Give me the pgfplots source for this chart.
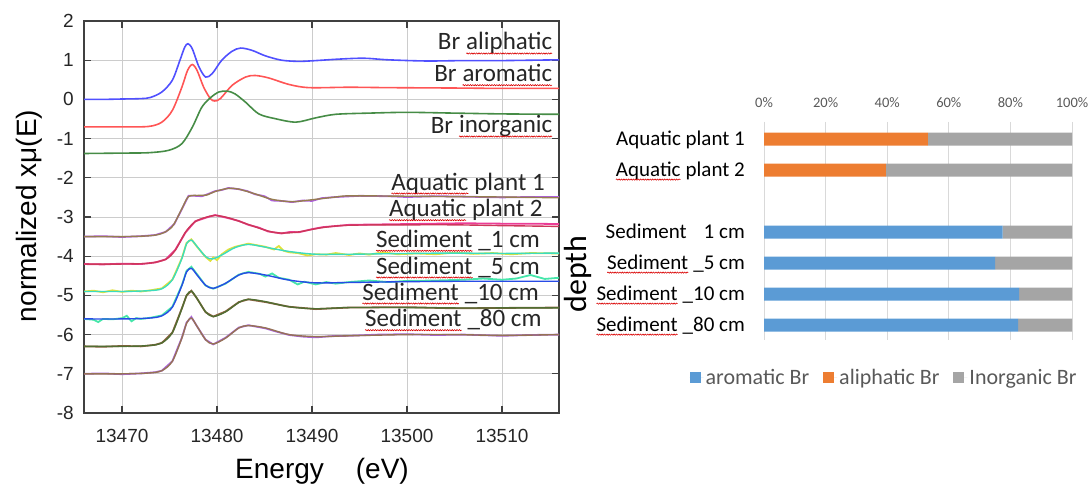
\documentclass[border=0pt]{standalone}
\usepackage{pgfplots}
\pgfplotsset{compat=1.18}
\usepackage{fontspec}
\setmainfont{Liberation Sans}
\newfontfamily\carl{Carlito}
\usetikzlibrary{decorations.pathmorphing}
\definecolor{cblue}{RGB}{80,80,255}
\definecolor{cred}{RGB}{255,85,85}
\definecolor{cgreen}{RGB}{70,140,70}
\definecolor{p1fit}{RGB}{150,125,80}
\definecolor{p1dat}{RGB}{175,95,225}
\definecolor{p2fit}{RGB}{205,55,90}
\definecolor{p2dat}{RGB}{235,60,150}
\definecolor{s1fit}{RGB}{60,220,190}
\definecolor{s1dat}{RGB}{225,225,60}
\definecolor{s5fit}{RGB}{40,75,230}
\definecolor{s5dat}{RGB}{70,230,170}
\definecolor{s10fit}{RGB}{80,110,50}
\definecolor{s10dat}{RGB}{145,95,65}
\definecolor{s80fit}{RGB}{150,115,85}
\definecolor{s80dat}{RGB}{170,100,220}
\definecolor{barblue}{RGB}{91,155,213}
\definecolor{barorange}{RGB}{237,125,49}
\definecolor{bargray}{RGB}{165,165,165}
\definecolor{txtgray}{RGB}{89,89,89}
\newcommand{\sq}[1]{\tikz[baseline=(t.base)]{\node[inner sep=0pt,outer sep=0pt,anchor=center](t){#1};\draw[red!85!black,line width=0.6pt,decorate,decoration={snake,amplitude=0.6pt,segment length=2.4pt}]([yshift=-3.5pt]t.base west)--([yshift=-3.5pt]t.base east);}}
\begin{document}
\begin{tikzpicture}
\path[use as bounding box] (0pt,0pt) rectangle (1091pt,483pt);
\begin{axis}[
  at={(84pt,70pt)}, anchor=south west, scale only axis,
  width=475pt, height=392pt,
  xmin=13466, xmax=13516, ymin=-8, ymax=2,
  xtick={13470,13480,13490,13500,13510},
  ytick={-8,-7,-6,-5,-4,-3,-2,-1,0,1,2},
  scaled x ticks=false, scaled y ticks=false,
  /pgf/number format/assume math mode=true,
  /pgf/number format/set thousands separator={},
  grid=major, major grid style={black!20, line width=1pt},
  tick align=inside, major tick length=7pt,
  axis line style={black!75, line width=1.2pt},
  tick style={black!75, line width=1.2pt},
  ticklabel style={font=\fontsize{19}{21}\selectfont, text=black!85},
  xticklabel style={inner sep=0pt, yshift=-16pt},
  yticklabel style={inner sep=0pt, xshift=-10pt},
  clip=true,
]
% Br aliphatic
\addplot[cblue, line width=1.6pt, smooth] coordinates {(13466,0.0)(13468,0.0)(13470,0.01)(13472,0.02)(13473,0.05)(13474.2,0.19)(13475.3,0.49)(13476.1,1.0)(13476.6,1.33)(13476.95,1.42)(13477.4,1.29)(13478.1,0.83)(13478.8,0.57)(13479.5,0.66)(13480.5,1.0)(13481.6,1.23)(13482.5,1.31)(13483.7,1.25)(13485.1,1.11)(13486.8,1.0)(13488.6,0.97)(13490.4,0.99)(13493,1.03)(13495.5,1.05)(13498,1.01)(13502,0.98)(13506,0.99)(13510,0.99)(13516,1.01)};
% Br aromatic
\addplot[cred, line width=1.6pt, smooth] coordinates {(13466,-0.7)(13470,-0.7)(13472.8,-0.69)(13474.2,-0.58)(13475.3,-0.28)(13476.3,0.31)(13476.9,0.74)(13477.4,0.89)(13477.9,0.74)(13478.6,0.31)(13479.3,0.02)(13479.75,-0.04)(13480.35,0.02)(13481.6,0.36)(13483.0,0.57)(13484.0,0.61)(13485.4,0.55)(13487.6,0.38)(13489.7,0.30)(13493.9,0.31)(13498,0.30)(13505,0.29)(13510,0.28)(13516,0.28)};
% Br inorganic
\addplot[cgreen, line width=1.6pt, smooth] coordinates {(13466,-1.38)(13470,-1.37)(13472.8,-1.36)(13474.9,-1.30)(13476.3,-1.13)(13477.4,-0.71)(13478.4,-0.20)(13479.3,0.04)(13480.2,0.19)(13481.1,0.21)(13481.9,0.14)(13483.0,-0.07)(13484.4,-0.37)(13486.1,-0.49)(13488.3,-0.58)(13490.4,-0.47)(13492.5,-0.38)(13496,-0.35)(13500,-0.33)(13505,-0.35)(13510,-0.37)(13516,-0.38)};
% Aquatic plant 1
\addplot[p1dat, line width=1.8pt] coordinates {(13466,-3.5)(13468,-3.49)(13470,-3.51)(13472,-3.49)(13473.5,-3.46)(13474.6,-3.38)(13475.5,-3.18)(13476.3,-2.80)(13477.0,-2.46)(13477.7,-2.46)(13478.4,-2.47)(13479.0,-2.42)(13479.8,-2.34)(13480.5,-2.31)(13481.2,-2.26)(13482.3,-2.29)(13483.2,-2.34)(13484.0,-2.42)(13485.0,-2.47)(13485.8,-2.58)(13486.8,-2.59)(13487.9,-2.62)(13489.0,-2.58)(13490.0,-2.59)(13491.0,-2.52)(13492.5,-2.49)(13495,-2.46)(13498,-2.47)(13500,-2.49)(13503,-2.47)(13506,-2.48)(13510,-2.50)(13513,-2.49)(13516,-2.49)};
\addplot[p1fit, line width=1.4pt, smooth] coordinates {(13466,-3.5)(13470,-3.5)(13472.8,-3.48)(13474.2,-3.42)(13475.3,-3.24)(13476.3,-2.79)(13477.0,-2.48)(13478.1,-2.45)(13478.9,-2.44)(13479.8,-2.35)(13481.2,-2.27)(13482.3,-2.29)(13484.0,-2.41)(13485.8,-2.55)(13487.9,-2.61)(13490.0,-2.56)(13492.5,-2.49)(13494,-2.46)(13500,-2.47)(13505,-2.48)(13510,-2.49)(13516,-2.51)};
% Aquatic plant 2
\addplot[p2dat, line width=1.8pt] coordinates {(13466,-4.2)(13468,-4.21)(13470,-4.19)(13472,-4.2)(13473.5,-4.16)(13474.6,-4.08)(13475.6,-3.84)(13476.7,-3.39)(13477.7,-3.11)(13478.8,-3.02)(13479.8,-2.95)(13481.2,-3.03)(13482.3,-3.10)(13483.3,-3.20)(13484.4,-3.27)(13485.4,-3.37)(13486.8,-3.42)(13487.7,-3.38)(13488.6,-3.39)(13490,-3.31)(13491.1,-3.26)(13493.9,-3.20)(13497,-3.19)(13500,-3.18)(13503,-3.17)(13506,-3.16)(13510,-3.17)(13513,-3.17)(13516,-3.18)};
\addplot[p2fit, line width=1.4pt, smooth] coordinates {(13466,-4.2)(13470,-4.2)(13472.8,-4.18)(13474.6,-4.08)(13475.6,-3.85)(13476.7,-3.38)(13477.7,-3.12)(13478.8,-3.01)(13479.8,-2.96)(13481.2,-3.02)(13483.3,-3.19)(13485.4,-3.36)(13486.8,-3.41)(13488.6,-3.38)(13491.1,-3.27)(13493.9,-3.21)(13500,-3.20)(13505,-3.20)(13510,-3.22)(13516,-3.24)};
% Sediment 1 cm
\addplot[s1dat, line width=1.8pt] coordinates {(13466,-4.9)(13467,-4.88)(13468,-4.92)(13469,-4.87)(13470,-4.91)(13471,-4.88)(13472,-4.9)(13473,-4.87)(13474.2,-4.82)(13475.3,-4.6)(13476.3,-4.05)(13476.8,-3.66)(13477.3,-3.57)(13477.9,-3.76)(13478.8,-4.02)(13479.3,-4.12)(13479.6,-4.03)(13480.0,-4.1)(13480.5,-3.95)(13481.2,-3.83)(13481.9,-3.76)(13482.6,-3.72)(13483.3,-3.68)(13484.2,-3.72)(13485.1,-3.76)(13486.0,-3.83)(13486.5,-3.74)(13487.0,-3.86)(13487.6,-3.90)(13488.5,-3.92)(13489.5,-3.98)(13490.4,-3.95)(13491.5,-3.96)(13492.5,-3.92)(13493.9,-3.97)(13495,-3.93)(13496,-3.96)(13497.5,-3.90)(13499,-3.95)(13501,-3.93)(13503,-3.95)(13505,-3.91)(13507,-3.94)(13509,-3.92)(13511,-3.95)(13513,-3.92)(13516,-3.93)};
\addplot[s1fit, line width=1.4pt, smooth] coordinates {(13466,-4.9)(13470,-4.9)(13472.8,-4.88)(13474.2,-4.83)(13475.3,-4.6)(13476.3,-4.06)(13476.8,-3.68)(13477.3,-3.59)(13477.9,-3.75)(13478.8,-4.01)(13479.5,-4.07)(13480.5,-3.97)(13481.9,-3.78)(13483.3,-3.70)(13485.1,-3.77)(13487.6,-3.88)(13490.4,-3.95)(13493.9,-3.95)(13500,-3.93)(13505,-3.92)(13510,-3.93)(13516,-3.92)};
% Sediment 5 cm
\addplot[s5dat, line width=1.8pt] coordinates {(13466,-5.6)(13467,-5.62)(13467.5,-5.68)(13468,-5.6)(13469,-5.61)(13470,-5.58)(13470.5,-5.52)(13471,-5.66)(13471.5,-5.58)(13472,-5.6)(13473,-5.57)(13474.2,-5.51)(13475.3,-5.29)(13476.3,-4.74)(13476.8,-4.37)(13477.3,-4.27)(13477.9,-4.46)(13478.8,-4.75)(13479.6,-4.83)(13480.9,-4.70)(13482.3,-4.47)(13483.3,-4.40)(13484.5,-4.45)(13485.1,-4.52)(13485.8,-4.44)(13486.5,-4.55)(13487.6,-4.60)(13488.5,-4.72)(13489.2,-4.65)(13490.4,-4.72)(13491.5,-4.66)(13492.5,-4.70)(13493.9,-4.66)(13496,-4.62)(13498,-4.66)(13500,-4.63)(13503,-4.62)(13506,-4.60)(13508,-4.57)(13510,-4.60)(13511.5,-4.57)(13513,-4.48)(13514.5,-4.58)(13516,-4.55)};
\addplot[s5fit, line width=1.4pt, smooth] coordinates {(13466,-5.6)(13470,-5.6)(13472.8,-5.58)(13474.2,-5.52)(13475.3,-5.3)(13476.3,-4.75)(13476.8,-4.4)(13477.3,-4.31)(13477.9,-4.48)(13478.8,-4.74)(13479.6,-4.82)(13480.9,-4.69)(13482.3,-4.48)(13483.3,-4.42)(13485.1,-4.48)(13487.6,-4.61)(13490.4,-4.68)(13493.9,-4.67)(13500,-4.65)(13505,-4.64)(13510,-4.64)(13516,-4.64)};
% Sediment 10 cm
\addplot[s10dat, line width=1.8pt] coordinates {(13466,-6.3)(13468,-6.31)(13470,-6.29)(13472,-6.3)(13473.5,-6.26)(13474.2,-6.21)(13475.3,-5.95)(13476.3,-5.33)(13476.8,-5.0)(13477.3,-4.88)(13477.9,-5.08)(13478.8,-5.43)(13479.6,-5.54)(13480.9,-5.41)(13482.3,-5.17)(13483.3,-5.10)(13485.1,-5.17)(13487.6,-5.29)(13490.4,-5.35)(13493.9,-5.31)(13500,-5.30)(13505,-5.33)(13510,-5.32)(13516,-5.31)};
\addplot[s10fit, line width=1.4pt, smooth] coordinates {(13466,-6.3)(13470,-6.3)(13472.8,-6.28)(13474.2,-6.21)(13475.3,-5.95)(13476.3,-5.34)(13476.8,-5.0)(13477.3,-4.89)(13477.9,-5.08)(13478.8,-5.42)(13479.6,-5.54)(13480.9,-5.42)(13482.3,-5.18)(13483.3,-5.10)(13485.1,-5.16)(13487.6,-5.29)(13490.4,-5.34)(13493.9,-5.31)(13500,-5.31)(13505,-5.32)(13510,-5.32)(13516,-5.32)};
% Sediment 80 cm
\addplot[s80dat, line width=1.8pt] coordinates {(13466,-7.0)(13468,-6.99)(13470,-7.01)(13472,-6.99)(13473.5,-6.96)(13474.2,-6.92)(13475.3,-6.68)(13476.3,-6.08)(13476.8,-5.69)(13477.3,-5.55)(13477.9,-5.79)(13478.8,-6.13)(13479.6,-6.25)(13480.9,-6.08)(13482.3,-5.82)(13483.3,-5.76)(13484.2,-5.80)(13485.1,-5.84)(13486.2,-5.92)(13487.6,-6.01)(13489,-6.05)(13490.4,-6.07)(13492,-6.04)(13493.9,-6.03)(13497,-6.00)(13500,-5.99)(13503,-6.01)(13506,-6.00)(13510,-6.03)(13513,-6.01)(13516,-6.00)};
\addplot[s80fit, line width=1.4pt, smooth] coordinates {(13466,-7.0)(13470,-7.0)(13472.8,-6.98)(13474.2,-6.92)(13475.3,-6.68)(13476.3,-6.09)(13476.8,-5.71)(13477.3,-5.58)(13477.9,-5.79)(13478.8,-6.13)(13479.6,-6.24)(13480.9,-6.09)(13482.3,-5.83)(13483.3,-5.77)(13485.1,-5.83)(13487.6,-6.0)(13490.4,-6.05)(13493.9,-6.03)(13500,-6.0)(13505,-6.0)(13510,-6.02)(13516,-6.0)};
\end{axis}
% axis labels
\node[anchor=base, rotate=90, inner sep=0pt, font=\fontsize{28}{30}\selectfont] at (36pt,267pt) {normalized xμ(E)};
\node[anchor=base, inner sep=0pt, font=\fontsize{28}{30}\selectfont] at (322pt,5pt) {Energy\hspace{32pt}(eV)};
% curve annotations
\begin{scope}[every node/.style={anchor=base east, inner sep=0pt, font=\carl\fontsize{25}{27}\selectfont, text=black!85}]
\node at (552.7pt,433pt) {Br \sq{aliphatic}};
\node at (552.7pt,401.3pt) {Br \sq{aromatic}};
\node at (552.7pt,350pt) {Br \sq{inorganic}};
\node at (545pt,293pt) {\sq{Aquatic} plant 1};
\node at (542.7pt,266.3pt) {\sq{Aquatic} plant 2};
\node at (540pt,235.7pt) {\sq{Sediment} \_1 cm};
\node at (540pt,209pt) {\sq{Sediment} \_5 cm};
\node at (539pt,183pt) {\sq{Sediment} \_10 cm};
\node at (541.7pt,156.3pt) {\sq{Sediment} \_80 cm};
\end{scope}
% bar chart
\begin{axis}[
  at={(764pt,143pt)}, anchor=south west, scale only axis,
  width=308pt, height=218pt,
  xbar stacked, bar width=13pt,
  xmin=0, xmax=100, ymin=-0.55, ymax=6.48, y dir=reverse,
  axis line style={draw=none}, major tick length=0pt,
  xtick={0,20,40,60,80,100}, xticklabel pos=right,
  xticklabel={\pgfmathprintnumber[assume math mode=true]{\tick}\%},
  xmajorgrids, major grid style={black!15, line width=0.9pt},
  xticklabel style={font=\carl\fontsize{14.5}{16}\selectfont, text=txtgray, inner sep=0pt, yshift=14pt},
  ytick={0,1,3,4,5,6},
  yticklabels={Aquatic plant 1,{\sq{Aquatic} plant 2},Sediment\hspace{17pt}1 cm,{\sq{Sediment} \_5 cm},{\sq{Sediment} \_10 cm},{\sq{Sediment} \_80 cm}},
  yticklabel style={font=\carl\fontsize{21}{23}\selectfont, text=black, anchor=base east, inner sep=0pt, xshift=-19pt, yshift=-6pt},
  legend columns=3,
  legend style={draw=none, fill=none, at={(0.39,-0.174)}, anchor=center, font=\carl\fontsize{22}{24}\selectfont, text=txtgray, /tikz/every even column/.append style={column sep=12pt}},
  legend image code/.code={\fill[#1,draw=none] (0pt,-5.5pt) rectangle (11pt,5.5pt); \path (0pt,0pt) -- (14pt,0pt);},
]
\addplot[fill=barblue, draw=none] coordinates {(0,0)(0,1)(77.5,3)(75,4)(82.8,5)(82.5,6)};
\addplot[fill=barorange, draw=none] coordinates {(53.2,0)(39.6,1)(0,3)(0,4)(0,5)(0,6)};
\addplot[fill=bargray, draw=none] coordinates {(46.8,0)(60.4,1)(22.5,3)(25,4)(17.2,5)(17.5,6)};
\legend{aromatic Br, aliphatic Br, Inorganic Br}
\end{axis}
\node[anchor=base, rotate=90, inner sep=0pt, font=\carl\fontsize{32}{34}\selectfont] at (586pt,209pt) {depth};
\end{tikzpicture}
\end{document}
